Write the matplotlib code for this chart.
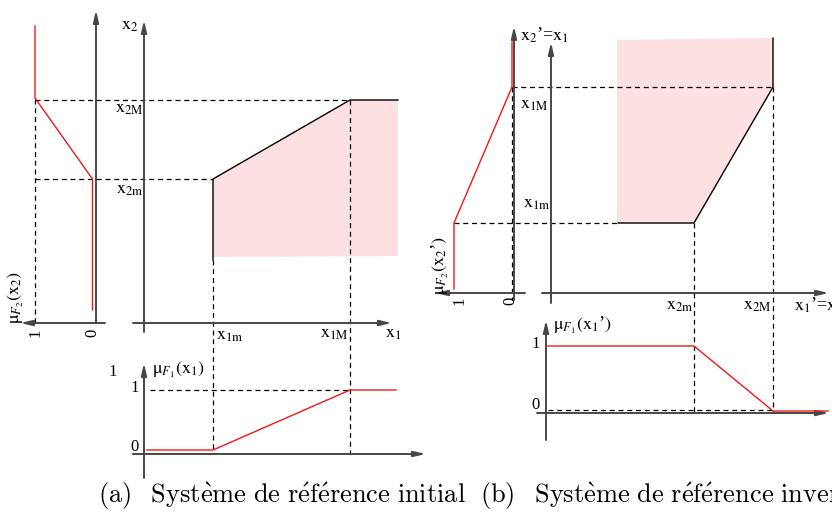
import matplotlib
matplotlib.use("Agg")
import matplotlib.pyplot as plt
from matplotlib.patches import Polygon

# ---------------- data (diagram coordinates, pixels from top-left) ----------------
# Panel (a): initial reference system
a_red_mu2_x = [35, 35, 92.5, 92.5]
a_red_mu2_y = [26, 98, 179, 310]
a_frontier_x = [213, 213, 350, 398]
a_frontier_y = [260, 179, 100, 100]
a_region_x = [213, 350, 398, 398, 213]
a_region_y = [179, 100, 100, 256, 257]
a_red_mu1_x = [147, 213, 350, 396]
a_red_mu1_y = [450, 450, 390, 390]

# Panel (b): inverted reference system
b_red_mu2_x = [512, 512, 454, 454]
b_red_mu2_y = [42, 87, 223, 289]
b_frontier_x = [618, 694, 773, 773]
b_frontier_y = [223, 223, 87, 38]
b_region_x = [617, 773, 773, 694, 617]
b_region_y = [40, 38, 87, 223, 223]
b_red_mu1_x = [548, 694, 773, 828]
b_red_mu1_y = [346, 346, 411, 411]

# axes arrows: (x_start, y_start, x_tip, y_tip)
arrows = [
    (96, 323, 96, 10), (105, 323, 20, 323), (144, 332, 144, 20),
    (133, 323, 392, 323), (144, 478, 144, 363), (133, 454, 426, 454),
    (514, 300, 514, 26), (525, 293, 435, 293), (551, 303, 551, 42),
    (542, 293, 829, 293), (546, 440, 546, 320), (537, 413, 829, 413),
]
# dashed guide lines: (x0, y0, x1, y1)
dashes = [
    (35, 99.5, 350, 99.5), (35, 99, 35, 323), (35, 179, 213, 179),
    (213, 260, 213, 454), (350, 100, 350, 454), (150, 390, 350, 390),
    (512, 87, 773, 87), (512, 87, 512, 300), (454, 223, 618, 223),
    (694, 223, 694, 413), (773, 87, 773, 413), (548, 410, 773, 410),
]

MU = r"\mathrm{\mu}"
# labels: (x, y, text, size)
labels = [
    (121, 25, r"$\mathrm{x}_{2}$", 13),
    (115, 108, r"$\mathrm{x}_{2\mathrm{M}}$", 13),
    (116, 189, r"$\mathrm{x}_{2\mathrm{m}}$", 13),
    (216, 336, r"$\mathrm{x}_{1\mathrm{m}}$", 13),
    (320, 334, r"$\mathrm{x}_{1\mathrm{M}}$", 13),
    (385, 334, r"$\mathrm{x}_{1}$", 13),
    (108, 372, "1", 12),
    (152, 370, r"$" + MU + r"_{F_1}(\mathrm{x}_{1})$", 13),
    (130, 388, "1", 12),
    (130, 447, "0", 12),
    (520, 35, r"$\mathrm{x}_{2}$’=$\mathrm{x}_{1}$", 13),
    (520, 104, r"$\mathrm{x}_{1\mathrm{M}}$", 13),
    (523, 203, r"$\mathrm{x}_{1\mathrm{m}}$", 13),
    (666, 305, r"$\mathrm{x}_{2\mathrm{m}}$", 13),
    (743, 305, r"$\mathrm{x}_{2\mathrm{M}}$", 13),
    (794, 305, r"$\mathrm{x}_{1}$’=$\mathrm{x}_{2}$", 13),
    (553, 325, r"$" + MU + r"_{F_1}(\mathrm{x}_{1}$’$)$", 13),
    (531, 344, "1", 12),
    (531, 405, "0", 12),
]
rot_labels = [
    (16, 298, r"$" + MU + r"_{F_2}(\mathrm{x}_{2})$"),
    (440, 266, r"$" + MU + r"_{F_2}(\mathrm{x}_{2}$’$)$"),
]
rot_ticks = [(35, 333, "1"), (92, 333, "0"), (459, 301, "1"), (510, 301, "0")]

captions = [
    (98, 496, r"$\mathrm{(a)\;\;\;Syst\grave{e}me\ de\ r\acute{e}f\acute{e}rence\ initial}$"),
    (480, 496, r"$\mathrm{(b)\;\;\;Syst\grave{e}me\ de\ r\acute{e}f\acute{e}rence\ invers\acute{e}}$"),
]

# ---------------- drawing ----------------
fig = plt.figure(figsize=(8.32, 5.16), dpi=100)
ax = fig.add_axes([0, 0, 1, 1])
ax.set_xlim(0, 832)
ax.set_ylim(516, 0)
ax.axis("off")

PINK = "#fde0e1"
RED = "#f01818"
AXC = "#474747"

for xs, ys in [(a_region_x, a_region_y), (b_region_x, b_region_y)]:
    ax.add_patch(Polygon(list(zip(xs, ys)), closed=True, facecolor=PINK,
                         edgecolor="none", zorder=1))

for x0, y0, x1, y1 in dashes:
    ax.plot([x0, x1], [y0, y1], color="black", lw=0.9, ls=(0, (4, 3)), zorder=2)

for x0, y0, x1, y1 in arrows:
    ax.annotate("", xy=(x1, y1), xytext=(x0, y0),
                arrowprops=dict(arrowstyle="-|>,head_length=0.7,head_width=0.16",
                                color=AXC, lw=1.4, shrinkA=0, shrinkB=0),
                zorder=3)

for xs, ys in [(a_frontier_x, a_frontier_y), (b_frontier_x, b_frontier_y)]:
    ax.plot(xs, ys, color="black", lw=1.0, zorder=4)

for xs, ys in [(a_red_mu2_x, a_red_mu2_y), (a_red_mu1_x, a_red_mu1_y),
               (b_red_mu2_x, b_red_mu2_y), (b_red_mu1_x, b_red_mu1_y)]:
    ax.plot(xs, ys, color=RED, lw=1.0, zorder=5)

for x, y, t, s in labels:
    ax.text(x, y, t, fontsize=s, ha="left", va="center",
            family="Liberation Serif", math_fontfamily="stix", zorder=6)

for x, y, t in rot_labels:
    ax.text(x, y, t, fontsize=13, rotation=90, ha="center", va="center",
            family="Liberation Serif", math_fontfamily="stix", zorder=6)

for x, y, t in rot_ticks:
    ax.text(x, y, t, fontsize=12, rotation=90, ha="center", va="center",
            family="Liberation Serif", zorder=6)

for x, y, t in captions:
    ax.text(x, y, t, fontsize=19, ha="left", va="center",
            math_fontfamily="cm", zorder=6)

fig.savefig("out.png", dpi=100)
